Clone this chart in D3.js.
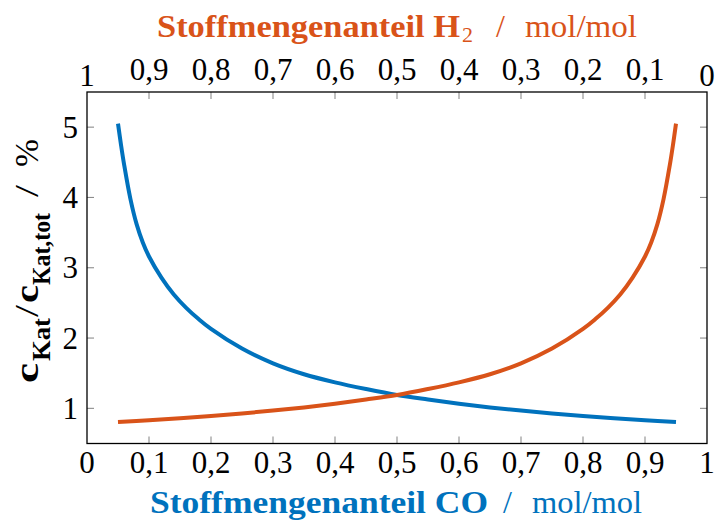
<!DOCTYPE html>
<html>
<head>
<meta charset="utf-8">
<script src="https://cdn.jsdelivr.net/npm/d3@7"></script>
<style>
html,body{margin:0;padding:0;background:#fff;}
svg{display:block;}
</style>
</head>
<body>
<svg id="chart" width="715" height="520"></svg>
<script>
// ---- data ----
const coFraction = [0.05,0.055,0.06,0.07,0.08,0.09,0.10,0.12,0.14,0.16,0.18,0.20,0.25,0.30,0.35,0.40,0.45,0.50,0.55,0.60,0.65,0.70,0.75,0.80,0.85,0.90,0.95];
const cKatCO = [5.05,4.74,4.46,3.98,3.62,3.36,3.16,2.86,2.62,2.43,2.27,2.13,1.85,1.64,1.485,1.37,1.275,1.19,1.125,1.065,1.013,0.968,0.928,0.892,0.86,0.831,0.805];
const coFractionH2 = [0.05,0.10,0.15,0.20,0.25,0.30,0.35,0.40,0.45,0.50,0.55,0.60,0.65,0.70,0.75,0.80,0.82,0.84,0.86,0.88,0.90,0.91,0.92,0.93,0.94,0.945,0.95];
const cKatH2 = [0.805,0.831,0.86,0.892,0.928,0.968,1.013,1.065,1.125,1.19,1.275,1.37,1.485,1.64,1.85,2.13,2.27,2.43,2.62,2.86,3.16,3.36,3.62,3.98,4.46,4.74,5.05];
const xTicks = [0,0.1,0.2,0.3,0.4,0.5,0.6,0.7,0.8,0.9,1];
const xTickLabels = ["0","0,1","0,2","0,3","0,4","0,5","0,6","0,7","0,8","0,9","1"];
const topTicks = [1,0.9,0.8,0.7,0.6,0.5,0.4,0.3,0.2,0.1,0];
const topTickLabels = ["1","0,9","0,8","0,7","0,6","0,5","0,4","0,3","0,2","0,1","0"];
const yTicks = [1,2,3,4,5];
const yTickLabels = ["1","2","3","4","5"];

const BLUE = "#0072BD", ORANGE = "#D95319";
const serif = "'Liberation Serif','DejaVu Serif',serif";

const svg = d3.select("#chart");
const L = 87, R = 707, T = 92, B = 443.5;
const x = d3.scaleLinear().domain([0,1]).range([L,R]);
const xTop = d3.scaleLinear().domain([1,0]).range([L,R]);
const y = d3.scaleLinear().domain([0.5,5.5]).range([B,T]);

const tickColor = "#8c8c8c", tl = 7;
const g = svg.append("g");

// inner ticks
const inner = xTicks.filter(v => v > 0 && v < 1);
g.selectAll(".tb").data(inner).join("line")
  .attr("x1", d => x(d)).attr("x2", d => x(d)).attr("y1", B).attr("y2", B - tl)
  .attr("stroke", tickColor).attr("stroke-width", 1.1);
g.selectAll(".tt").data(topTicks.filter(v => v > 0 && v < 1)).join("line")
  .attr("x1", d => xTop(d)).attr("x2", d => xTop(d)).attr("y1", T).attr("y2", T + tl)
  .attr("stroke", tickColor).attr("stroke-width", 1.1);
g.selectAll(".tl").data(yTicks).join("line")
  .attr("x1", L).attr("x2", L + tl).attr("y1", d => y(d)).attr("y2", d => y(d))
  .attr("stroke", tickColor).attr("stroke-width", 1.1);
g.selectAll(".tr").data(yTicks).join("line")
  .attr("x1", R).attr("x2", R - tl).attr("y1", d => y(d)).attr("y2", d => y(d))
  .attr("stroke", tickColor).attr("stroke-width", 1.1);

// curves
const line = d3.line().x(d => x(d[0])).y(d => y(d[1])).curve(d3.curveCatmullRom.alpha(0.5));
svg.append("path").datum(coFraction.map((v,i) => [v, cKatCO[i]]))
  .attr("d", line).attr("fill","none").attr("stroke", BLUE).attr("stroke-width", 4);
svg.append("path").datum(coFractionH2.map((v,i) => [v, cKatH2[i]]))
  .attr("d", line).attr("fill","none").attr("stroke", ORANGE).attr("stroke-width", 4);

// frame
svg.append("rect").attr("x", L).attr("y", T).attr("width", R-L).attr("height", B-T)
  .attr("fill","none").attr("stroke","#000").attr("stroke-width",1.3);

// tick labels
const fs = 31;
svg.selectAll(".xl").data(xTicks).join("text")
  .attr("x", d => x(d)).attr("y", 473)
  .attr("text-anchor","middle").attr("font-family", serif).attr("font-size", fs)
  .text((d,i) => xTickLabels[i]);
svg.selectAll(".xtl").data(topTicks).join("text")
  .attr("x", d => xTop(d)).attr("y", (d,i) => topTickLabels[i].includes(",") ? 80 : 86)
  .attr("text-anchor","middle").attr("font-family", serif).attr("font-size", fs)
  .text((d,i) => topTickLabels[i]);
svg.selectAll(".yl").data(yTicks).join("text")
  .attr("x", 78).attr("y", d => y(d) + 10.5)
  .attr("text-anchor","end").attr("font-family", serif).attr("font-size", fs)
  .text((d,i) => yTickLabels[i]);

// helper for stretched text
function piece(parent, txt, px, py, size, weight, len, color) {
  const t = parent.append("text").attr("x", px).attr("y", py)
    .attr("font-family", serif).attr("font-size", size).attr("font-weight", weight)
    .attr("fill", color).text(txt);
  if (len) t.attr("textLength", len).attr("lengthAdjust", "spacingAndGlyphs");
  return t;
}

// top title
piece(svg, "Stoffmengenanteil H", 157, 37, 32, "bold", 303, ORANGE);
piece(svg, "2", 462, 42, 22, "normal", 11, ORANGE);
piece(svg, "/", 496, 37, 32, "normal", null, ORANGE);
piece(svg, "mol/mol", 525, 37, 32, "normal", 112, ORANGE);

// bottom title
piece(svg, "Stoffmengenanteil CO", 150, 513, 32, "bold", 338, BLUE);
piece(svg, "/", 503, 513, 32, "normal", null, BLUE);
piece(svg, "mol/mol", 532, 513, 32, "normal", 110, BLUE);

// y label (rotated)
const yl = svg.append("g").attr("transform", "translate(38,383) rotate(-90)");
piece(yl, "c", 0, 0, 34, "bold", 20, "#000");
piece(yl, "Kat", 22, 12, 26, "bold", 43, "#000");
piece(yl, "/", 66, 0, 34, "normal", 12, "#000");
piece(yl, "c", 80, 0, 34, "bold", 18, "#000");
piece(yl, "Kat,tot", 98, 12, 26, "bold", 72, "#000");
piece(yl, "/", 186, 0, 34, "normal", 12, "#000");
piece(yl, "%", 216, 0, 34, "normal", 28, "#000");
</script>
</body>
</html>
